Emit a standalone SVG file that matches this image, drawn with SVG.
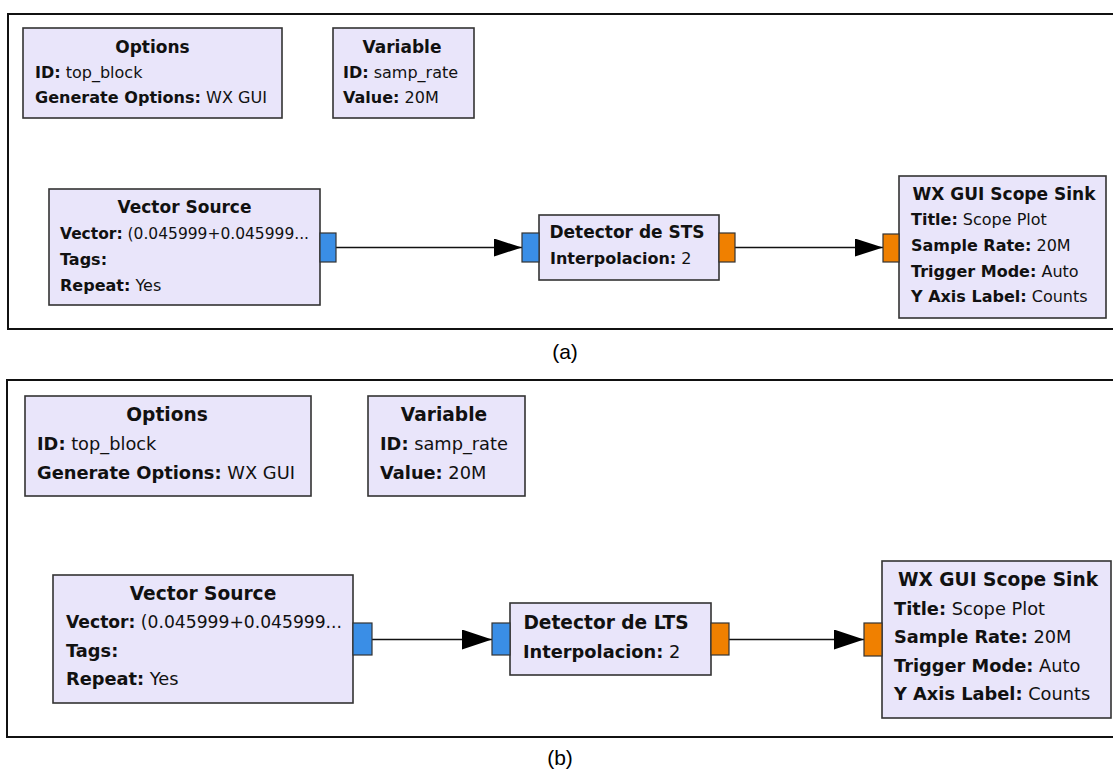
<svg xmlns="http://www.w3.org/2000/svg" width="1113" height="771" viewBox="0 0 1113 771">
  <defs>
    <style>
      .frame { fill: none; stroke: #111; stroke-width: 2; }
      .blk { fill: #e9e5fa; stroke: #333; stroke-width: 1.6; }
      .pin-c { fill: #3a8ee6; stroke: #333; stroke-width: 1.2; }
      .pin-f { fill: #f08000; stroke: #333; stroke-width: 1.2; }
      .wire { fill: none; stroke: #111; stroke-width: 1.4; }
      text { font-family: "DejaVu Sans", "Liberation Sans", sans-serif; fill: #111; }
      .fa { font-size: 16px; }
      .fb { font-size: 17.8px; }
      .fa.ttl { font-size: 17px; }
      .fb.ttl { font-size: 18.6px; }
      .ttl { font-weight: bold; text-anchor: middle; }
      .k { font-weight: bold; }
      .cap { font-family: "Liberation Sans", Arial, sans-serif; font-size: 21px; text-anchor: middle; fill: #000; }
    </style>
    <marker id="arrA" markerUnits="userSpaceOnUse" markerWidth="29" markerHeight="19" refX="28" refY="9" orient="auto">
      <path d="M0,0 L28,9 L0,18 Z" fill="#000"/>
    </marker>
    <marker id="arrB" markerUnits="userSpaceOnUse" markerWidth="31" markerHeight="21" refX="30" refY="10" orient="auto">
      <path d="M0,0 L30,10 L0,20 Z" fill="#000"/>
    </marker>
  </defs>
  <rect width="1113" height="771" fill="#fff"/>

  <!-- panel frames (open on the right) -->
  <path class="frame" d="M1113,14 H8 V329 H1113"/>
  <path class="frame" d="M1113,380 H7 V737 H1113"/>

  <!-- ===== panel (a) ===== -->
  <g id="connectors-a">
    <line class="wire" x1="336" y1="247.5" x2="522" y2="247.5" marker-end="url(#arrA)"/>
    <line class="wire" x1="735" y1="247.5" x2="883" y2="247.5" marker-end="url(#arrA)"/>
  </g>

  <g id="a-options">
    <rect class="blk" x="23" y="28" width="259" height="90"/>
    <text class="fa ttl" x="152.5" y="53">Options</text>
    <text class="fa" x="35" y="78"><tspan class="k">ID:</tspan> top_block</text>
    <text class="fa" x="35" y="103" textLength="232" lengthAdjust="spacingAndGlyphs"><tspan class="k">Generate Options:</tspan> WX GUI</text>
  </g>

  <g id="a-variable">
    <rect class="blk" x="333" y="28" width="141" height="90"/>
    <text class="fa ttl" x="402" y="53">Variable</text>
    <text class="fa" x="343" y="78"><tspan class="k">ID:</tspan> samp_rate</text>
    <text class="fa" x="343" y="103"><tspan class="k">Value:</tspan> 20M</text>
  </g>

  <g id="a-vector-source">
    <rect class="blk" x="49" y="189" width="271" height="116"/>
    <rect class="pin-c" x="320" y="233" width="16" height="29"/>
    <text class="fa ttl" x="184.5" y="213">Vector Source</text>
    <text class="fa" x="60" y="239" textLength="249" lengthAdjust="spacingAndGlyphs"><tspan class="k">Vector:</tspan> (0.045999+0.045999...</text>
    <text class="fa" x="60" y="265"><tspan class="k">Tags:</tspan></text>
    <text class="fa" x="60" y="291"><tspan class="k">Repeat:</tspan> Yes</text>
  </g>

  <g id="a-detector">
    <rect class="blk" x="539" y="215" width="180" height="65"/>
    <rect class="pin-c" x="522" y="233" width="17" height="29"/>
    <rect class="pin-f" x="719" y="233" width="16" height="29"/>
    <text class="fa ttl" x="627" y="238">Detector de STS</text>
    <text class="fa" x="550" y="264"><tspan class="k">Interpolacion:</tspan> 2</text>
  </g>

  <g id="a-scope-sink">
    <rect class="blk" x="899" y="176" width="207" height="142"/>
    <rect class="pin-f" x="883" y="234" width="16" height="28"/>
    <text class="fa ttl" x="1004" y="200">WX GUI Scope Sink</text>
    <text class="fa" x="911" y="225"><tspan class="k">Title:</tspan> Scope Plot</text>
    <text class="fa" x="911" y="251"><tspan class="k">Sample Rate:</tspan> 20M</text>
    <text class="fa" x="911" y="277"><tspan class="k">Trigger Mode:</tspan> Auto</text>
    <text class="fa" x="911" y="302"><tspan class="k">Y Axis Label:</tspan> Counts</text>
  </g>

  <text class="cap" x="565" y="359">(a)</text>

  <!-- ===== panel (b) ===== -->
  <g id="connectors-b">
    <line class="wire" x1="372" y1="639.5" x2="492" y2="639.5" marker-end="url(#arrB)"/>
    <line class="wire" x1="729" y1="639.5" x2="864" y2="639.5" marker-end="url(#arrB)"/>
  </g>

  <g id="b-options">
    <rect class="blk" x="25" y="396" width="286" height="100"/>
    <text class="fb ttl" x="167" y="421">Options</text>
    <text class="fb" x="37" y="450"><tspan class="k">ID:</tspan> top_block</text>
    <text class="fb" x="37" y="479" textLength="258" lengthAdjust="spacingAndGlyphs"><tspan class="k">Generate Options:</tspan> WX GUI</text>
  </g>

  <g id="b-variable">
    <rect class="blk" x="368" y="396" width="157" height="100"/>
    <text class="fb ttl" x="444" y="421">Variable</text>
    <text class="fb" x="380" y="450"><tspan class="k">ID:</tspan> samp_rate</text>
    <text class="fb" x="380" y="479"><tspan class="k">Value:</tspan> 20M</text>
  </g>

  <g id="b-vector-source">
    <rect class="blk" x="53" y="575" width="300" height="128"/>
    <rect class="pin-c" x="353" y="623" width="19" height="32"/>
    <text class="fb ttl" x="203" y="600">Vector Source</text>
    <text class="fb" x="66" y="628" textLength="276" lengthAdjust="spacingAndGlyphs"><tspan class="k">Vector:</tspan> (0.045999+0.045999...</text>
    <text class="fb" x="66" y="657"><tspan class="k">Tags:</tspan></text>
    <text class="fb" x="66" y="685"><tspan class="k">Repeat:</tspan> Yes</text>
  </g>

  <g id="b-detector">
    <rect class="blk" x="510" y="603" width="201" height="72"/>
    <rect class="pin-c" x="492" y="623" width="18" height="32"/>
    <rect class="pin-f" x="711" y="623" width="18" height="32"/>
    <text class="fb ttl" x="606" y="629">Detector de LTS</text>
    <text class="fb" x="523" y="658"><tspan class="k">Interpolacion:</tspan> 2</text>
  </g>

  <g id="b-scope-sink">
    <rect class="blk" x="882" y="561" width="229" height="157"/>
    <rect class="pin-f" x="864" y="623" width="18" height="33"/>
    <text class="fb ttl" x="998" y="586">WX GUI Scope Sink</text>
    <text class="fb" x="894" y="615"><tspan class="k">Title:</tspan> Scope Plot</text>
    <text class="fb" x="894" y="643"><tspan class="k">Sample Rate:</tspan> 20M</text>
    <text class="fb" x="894" y="672"><tspan class="k">Trigger Mode:</tspan> Auto</text>
    <text class="fb" x="894" y="700"><tspan class="k">Y Axis Label:</tspan> Counts</text>
  </g>

  <text class="cap" x="560" y="765">(b)</text>
</svg>
